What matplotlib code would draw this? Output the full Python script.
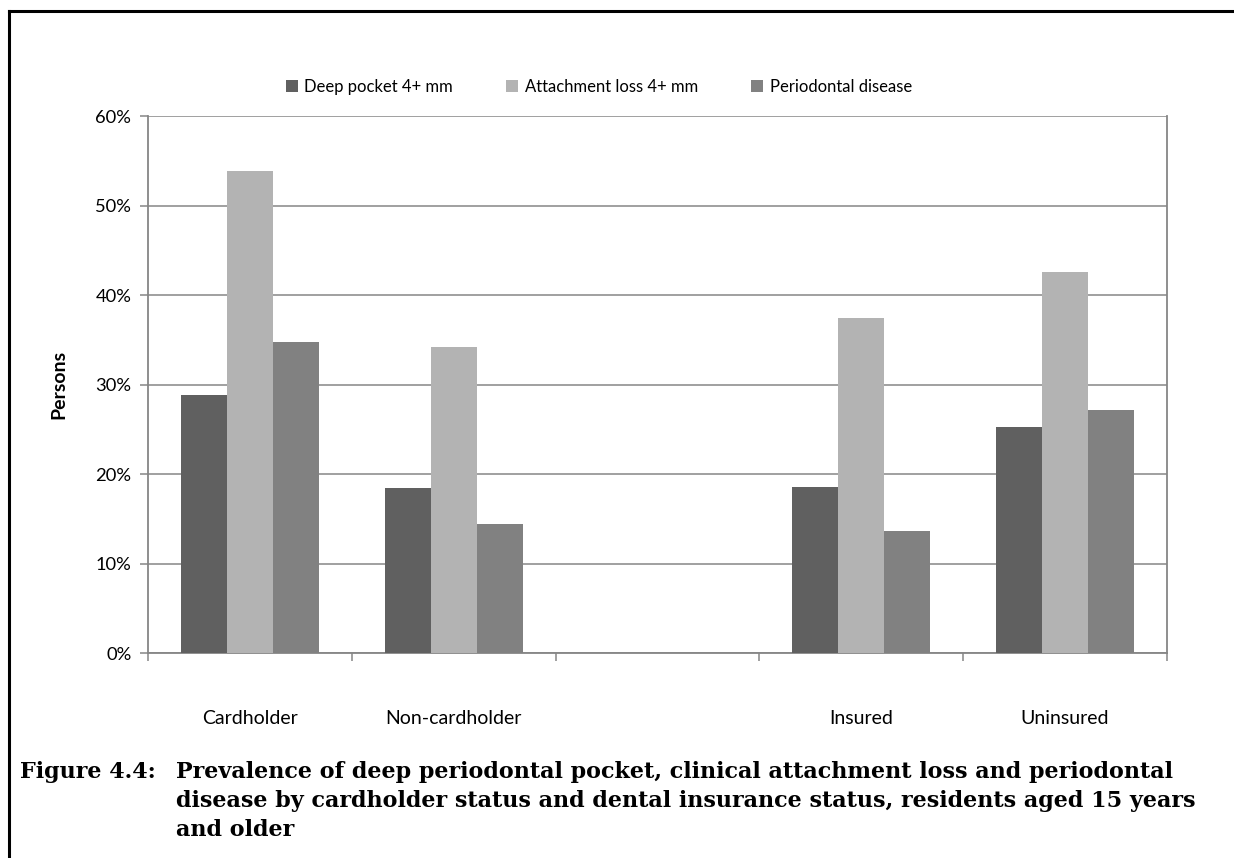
import numpy as np
import matplotlib
matplotlib.use('Agg')
from matplotlib import pyplot as plt
from matplotlib.lines import Line2D
from matplotlib.ticker import PercentFormatter

# data (percent of persons)
categories = ['Cardholder', 'Non-cardholder', '', 'Insured', 'Uninsured']
series = ['Deep pocket 4+ mm', 'Attachment loss 4+ mm', 'Periodontal disease']
deep_pocket = [28.8, 18.4, np.nan, 18.5, 25.3]
attach_loss = [53.8, 34.2, np.nan, 37.4, 42.6]
perio_disease = [34.8, 14.4, np.nan, 13.6, 27.1]
caption_label = 'Figure 4.4:'
caption_lines = [
    'Prevalence of deep periodontal pocket, clinical attachment loss and periodontal',
    'disease by cardholder status and dental insurance status, residents aged 15 years',
    'and older',
]

colors = ['#606060', '#b3b3b3', '#818181']
grey = '#868686'
plt.rcParams['font.family'] = ['Lato', 'DejaVu Sans']

fig = plt.figure(figsize=(12.34, 8.58), dpi=100)
ax = fig.add_axes([148 / 1234, 1 - 653 / 858, (1167 - 148) / 1234, (653 - 116) / 858])

x = np.arange(len(categories))
w = 0.226
for k, (vals, name) in enumerate(zip([deep_pocket, attach_loss, perio_disease], series)):
    ax.bar(x + (k - 1) * w, vals, width=w, color=colors[k], label=name, zorder=3)

ax.set_xlim(-0.5, len(categories) - 0.5)
ax.set_ylim(0, 60)
ax.set_yticks(np.arange(0, 61, 10))
ax.yaxis.set_major_formatter(PercentFormatter(decimals=0))
ax.grid(axis='y', color=grey, linewidth=1.1, zorder=0)

# category labels centred, tick marks on the boundaries
ax.set_xticks(x)
ax.set_xticklabels(categories, fontsize=14)
ax.tick_params(axis='x', length=0, pad=41)
ax.set_xticks(np.arange(-0.5, len(categories), 1), minor=True)
ax.tick_params(axis='x', which='minor', length=6, width=1.1, color=grey, direction='out')
ax.tick_params(axis='y', length=6, width=1.1, color=grey, labelsize=13.2, pad=6)

for s in ['left', 'right', 'bottom']:
    ax.spines[s].set_color(grey)
    ax.spines[s].set_linewidth(1.3)
ax.spines['top'].set_visible(False)

ax.set_ylabel('Persons', fontsize=14, fontweight='bold', labelpad=20)

leg = ax.legend(loc='center', bbox_to_anchor=(599 / 1234, 1 - 87 / 858), bbox_transform=fig.transFigure,
                ncol=3, frameon=False, fontsize=12, handlelength=0.7, handleheight=0.7,
                handletextpad=0.4, columnspacing=3.2)

# caption
serif = ['DejaVu Serif']
fig.text(20 / 1234, 1 - 772 / 858, caption_label, fontsize=16, fontweight='bold', family=serif, va='center')
for i, line in enumerate(caption_lines):
    fig.text(176 / 1234, 1 - (772 + 29 * i) / 858, line, fontsize=16, fontweight='bold',
             family=serif, va='center')

# page frame (top and left edges)
fig.add_artist(Line2D([8.5 / 1234, 8.5 / 1234], [0, 1 - 10.5 / 858], color='black', lw=2.2,
                      transform=fig.transFigure))
fig.add_artist(Line2D([8.5 / 1234, 1], [1 - 10.5 / 858, 1 - 10.5 / 858], color='black', lw=2.2,
                      transform=fig.transFigure))

fig.savefig('out.png', dpi=100)
